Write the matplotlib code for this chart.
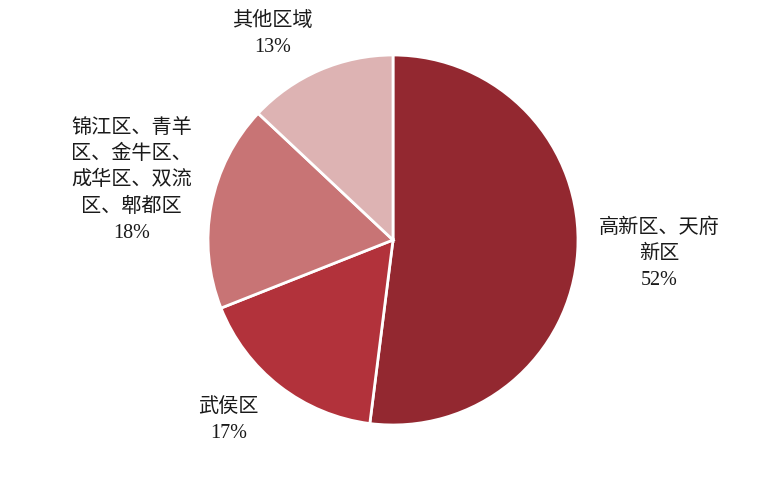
import numpy as np
import matplotlib
matplotlib.use("Agg")
import matplotlib.pyplot as plt

plt.rcParams['font.family'] = ['Liberation Serif', 'Noto Sans CJK SC', 'DejaVu Sans']

regions = ['高新区、天府\n新区', '武侯区', '锦江区、青羊\n区、金牛区、\n成华区、双流\n区、郫都区', '其他区域']
shares = [52, 17, 18, 13]
colors = ['#932830', '#B2323B', '#C87475', '#DDB3B3']
label_dist = [1.44, 1.32, 1.45, 1.29]
label_shift = [0.5, -4.5, -2.0, 7.0]   # degrees off the wedge middle

fig = plt.figure(figsize=(7.7, 4.83), dpi=100)
ax = fig.add_axes([0, 0, 1, 1])
r_px = 185.0
cx, cy = 393.0, 483 - 240.0

wedges, _ = ax.pie(shares, colors=colors, startangle=90, counterclock=False,
                   radius=1.0, wedgeprops=dict(edgecolor='white', linewidth=2))

ax.set_aspect('auto')
ax.set_xlim(-cx / r_px, (770 - cx) / r_px)
ax.set_ylim(-cy / r_px, (483 - cy) / r_px)
ax.axis('off')

for w, name, val, d, sh in zip(wedges, regions, shares, label_dist, label_shift):
    ang = np.deg2rad((w.theta1 + w.theta2) / 2 + sh)
    ax.text(d * np.cos(ang), d * np.sin(ang), f'{name}\n{val}%',
            ha='center', va='center', fontsize=14.5, linespacing=1.5,
            color='#1a1a1a')

fig.savefig('out.png', dpi=100)
